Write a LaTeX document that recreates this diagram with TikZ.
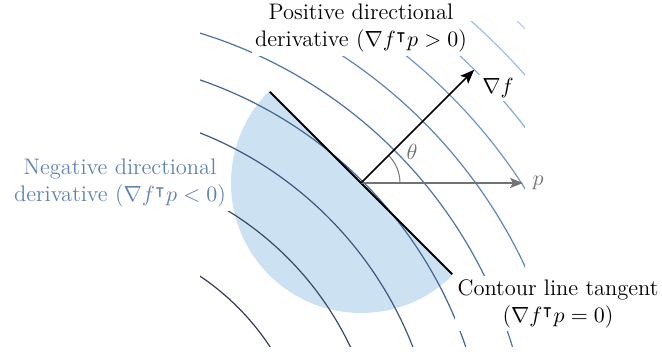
\documentclass[tikz,border=0pt]{standalone}
\usepackage{amssymb}
\usetikzlibrary{arrows.meta}
\definecolor{c0}{RGB}{50,62,82}
\definecolor{c1}{RGB}{58,75,100}
\definecolor{c2}{RGB}{62,88,125}
\definecolor{c3}{RGB}{68,100,145}
\definecolor{c4}{RGB}{78,115,165}
\definecolor{c5}{RGB}{92,130,185}
\definecolor{c6}{RGB}{110,148,200}
\definecolor{c7}{RGB}{135,170,215}
\definecolor{c8}{RGB}{160,190,228}
\definecolor{c9}{RGB}{185,208,238}
\definecolor{diskblue}{RGB}{204,226,242}
\definecolor{negblue}{RGB}{95,130,180}
\definecolor{pgray}{RGB}{115,115,115}
\tikzset{
  arcline/.style={line width=0.6pt},
  lbl/.style={fill=white, inner sep=1.5pt, align=center, font=\fontsize{11.25}{13.5}\selectfont},
  tangentline/.style={line width=0.9pt, black},
  gradarrow/.style={line width=0.75pt, black, -{Stealth[length=7pt,width=5.5pt,inset=1.5pt]}},
  parrow/.style={line width=0.7pt, pgray, -{Stealth[length=6.5pt,width=5pt,inset=1.5pt]}},
  anglearc/.style={line width=0.5pt, pgray},
}
\begin{document}
\begin{tikzpicture}[x=0.5pt,y=0.5pt]
\useasboundingbox (0,0) rectangle (662,356);
\coordinate (O) at (361,173);
\coordinate (C) at (61,-128);
\path (O) +(135:129) coordinate (t1) +(-45:129) coordinate (t2)
          +(45:160) coordinate (g) +(0:162) coordinate (pp);
% half disk of descent directions
\fill[diskblue] (O) -- ++(135:130) arc[start angle=135,end angle=315,radius=130] -- cycle;
% contour lines
\begin{scope}
  \clip (200,9) rectangle (525,334);
  \foreach \n in {0,...,9}
    \draw[arcline,c\n] (C) circle[radius={50*sqrt(25+16*\n)}];
\end{scope}
% labels
\node[lbl, text=black] (pos) at (361,327.5) {Positive directional\\derivative ($\nabla f^{\intercal} p > 0$)};
\node[lbl, text=negblue] (neg) at (120,172.5) {Negative directional\\derivative ($\nabla f^{\intercal} p < 0$)};
\node[lbl, text=black] (tan) at (558,52.5) {Contour line tangent\\($\nabla f^{\intercal} p = 0$)};
% tangent line and vectors
\draw[tangentline] (t1) -- (t2);
\draw[anglearc] (O) ++(0:39) arc[start angle=0,end angle=45,radius=39];
\draw[parrow] (O) -- (pp);
\draw[gradarrow] (O) -- (g);
\node[lbl, text=black] (gl) at (498,268) {$\nabla f$};
\node[lbl, fill=none, text=pgray] (pl) at (538,173) {$p$};
\node[lbl, fill=none, text=pgray] (th) at (412,204) {$\theta$};
\end{tikzpicture}
\end{document}
